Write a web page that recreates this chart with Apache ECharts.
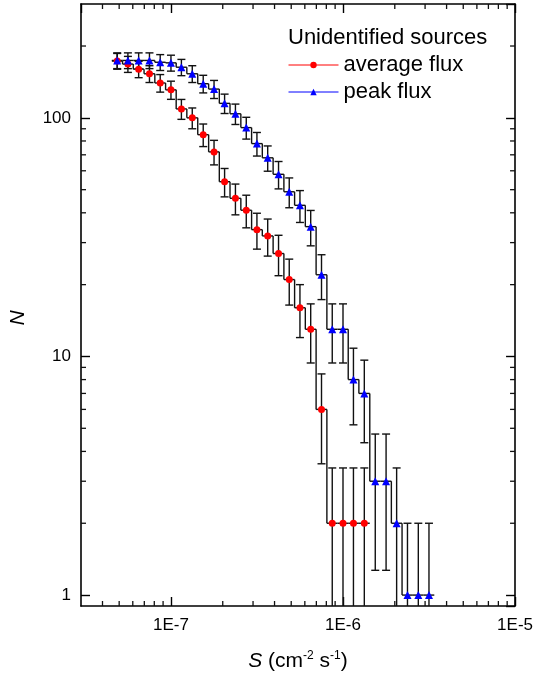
<!DOCTYPE html>
<html>
<head>
<meta charset="utf-8">
<script src="https://cdn.jsdelivr.net/npm/echarts@6/dist/echarts.min.js"></script>
<style>
  html, body { margin: 0; padding: 0; background: #fff; }
  #chart { width: 536px; height: 679px; }
</style>
</head>
<body>
<div id="chart"></div>
<script>
// flux bin centres (cm^-2 s^-1), shared by both curves
var sBins = [4.87e-8, 5.62e-8, 6.49e-8, 7.50e-8, 8.66e-8, 1.00e-7, 1.15e-7, 1.33e-7, 1.54e-7, 1.78e-7,
             2.05e-7, 2.37e-7, 2.74e-7, 3.16e-7, 3.65e-7, 4.22e-7, 4.87e-7, 5.62e-7, 6.49e-7, 7.50e-7,
             8.66e-7, 1.00e-6, 1.15e-6, 1.33e-6, 1.54e-6, 1.78e-6, 2.05e-6, 2.37e-6, 2.74e-6, 3.16e-6];

// average flux: cumulative counts and their errors
var avgN   = [173, 168, 160, 153, 140, 131, 109, 100, 85, 72, 54, 46, 41, 34, 32, 27, 21, 16, 13, 6, 2, 2, 2, 2];
var avgErr = [13.15, 12.96, 12.65, 12.37, 11.83, 11.45, 10.44, 10.0, 9.22, 8.49, 7.35, 6.78, 6.40, 5.83, 5.66,
              5.20, 4.58, 4.0, 3.61, 2.45, 1.41, 1.41, 1.41, 1.41];

// peak flux: cumulative counts and their errors
var peakN   = [174, 174, 174, 174, 171, 170, 163, 153, 139, 132, 115, 104, 91, 78, 68, 58, 49, 43, 35, 22,
               13, 13, 8, 7, 3, 3, 2, 1, 1, 1];
var peakErr = [13.19, 13.19, 13.19, 13.19, 13.08, 13.04, 12.77, 12.37, 11.79, 11.49, 10.72, 10.20, 9.54, 8.83, 8.25,
               7.62, 7.0, 6.56, 5.92, 4.69, 3.61, 3.61, 2.83, 2.65, 1.73, 1.73, 1.41, 1.0, 1.0, 1.0];

// minor tick positions
var xMinorTicks = [4e-8, 5e-8, 6e-8, 7e-8, 8e-8, 9e-8,
                   2e-7, 3e-7, 4e-7, 5e-7, 6e-7, 7e-7, 8e-7, 9e-7,
                   2e-6, 3e-6, 4e-6, 5e-6, 6e-6, 7e-6, 8e-6, 9e-6];
var yMinorTicks = [2, 3, 4, 5, 6, 7, 8, 9, 20, 30, 40, 50, 60, 70, 80, 90, 200];

var xMin = 3e-8, xMax = 1e-5, yMin = 0.9, yMax = 300;

var FONT = '"Liberation Sans", Arial, sans-serif';
var INK = '#111';
var LW = 1.4;

function pairs(ns, errs) {
  var out = [];
  for (var i = 0; i < ns.length; i++) out.push([sBins[i], ns[i], errs[i]]);
  return out;
}

function seg(p, q, w) {
  return { type: 'line', shape: { x1: p[0], y1: p[1], x2: q[0], y2: q[1] },
           style: { stroke: INK, lineWidth: w || LW } };
}

// step histogram + error bars, one group per bin
function histRender(ns, errs) {
  return function (params, api) {
    var i = params.dataIndex;
    var cs = params.coordSys;
    var x = sBins[i];
    var left = i > 0 ? Math.sqrt(sBins[i - 1] * x) : x * Math.sqrt(x / sBins[i + 1]);
    var right = i < ns.length - 1 ? Math.sqrt(sBins[i + 1] * x) : x * Math.sqrt(x / sBins[i - 1]);
    var n = ns[i];
    var kids = [];
    kids.push(seg(api.coord([left, n]), api.coord([right, n])));
    if (i > 0) kids.push(seg(api.coord([left, ns[i - 1]]), api.coord([left, n])));
    var hi = api.coord([x, n + errs[i]]);
    var loVal = n - errs[i];
    var lo = loVal > yMin ? api.coord([x, loVal]) : [hi[0], cs.y + cs.height];
    kids.push(seg(hi, lo));
    kids.push(seg([hi[0] - 4, hi[1]], [hi[0] + 4, hi[1]]));
    if (loVal > yMin) kids.push(seg([lo[0] - 4, lo[1]], [lo[0] + 4, lo[1]]));
    return { type: 'group', children: kids };
  };
}

var chart = echarts.init(document.getElementById('chart'));

function baseX(pos) {
  return {
    type: 'log', logBase: 10, min: xMin, max: xMax, position: pos,
    axisLine: { lineStyle: { color: '#000', width: 1.6 } },
    axisTick: { inside: true, length: 9, lineStyle: { color: '#000', width: 1.4 } },
    splitLine: { show: false },
    axisLabel: { show: false }
  };
}
function baseY(pos) {
  return {
    type: 'log', logBase: 10, min: yMin, max: yMax, position: pos,
    axisLine: { lineStyle: { color: '#000', width: 1.6 } },
    axisTick: { inside: true, length: 9, lineStyle: { color: '#000', width: 1.4 } },
    splitLine: { show: false },
    axisLabel: { show: false }
  };
}

var xBottom = baseX('bottom');
xBottom.axisLabel = {
  show: true, showMinLabel: false, margin: 11, color: '#000', fontSize: 17, fontFamily: FONT,
  formatter: function (v) { return '1E' + Math.round(Math.log10(v)); }
};
xBottom.name = '{it|S} (cm{sup|-2} s{sup|-1})';
xBottom.nameLocation = 'middle';
xBottom.nameGap = 44;
xBottom.nameTextStyle = {
  color: '#000', fontSize: 21, fontFamily: FONT,
  rich: {
    it: { fontStyle: 'italic', fontSize: 21, fontFamily: FONT, color: '#000' },
    sup: { fontSize: 12, fontFamily: FONT, color: '#000', padding: [0, 0, 10, 0] }
  }
};
var xTop = baseX('top');

var yLeft = baseY('left');
yLeft.axisLabel = {
  show: true, showMinLabel: false, showMaxLabel: false, margin: 10, color: '#000', fontSize: 17, fontFamily: FONT
};
yLeft.name = 'N';
yLeft.nameLocation = 'middle';
yLeft.nameGap = 52;
yLeft.nameTextStyle = { color: '#000', fontSize: 21, fontStyle: 'italic', fontFamily: FONT, padding: [0, 26, 0, 0] };
var yRight = baseY('right');

function minorRender(axis) {
  return function (params, api) {
    var cs = params.coordSys;
    var v = api.value(axis === 'x' ? 0 : 1);
    if (axis === 'x') {
      var px = api.coord([v, 1])[0];
      return { type: 'group', children: [
        seg([px, cs.y + cs.height], [px, cs.y + cs.height - 5], 1.3),
        seg([px, cs.y], [px, cs.y + 5], 1.3)
      ] };
    }
    var py = api.coord([1e-7, v])[1];
    return { type: 'group', children: [
      seg([cs.x, py], [cs.x + 5, py], 1.3),
      seg([cs.x + cs.width, py], [cs.x + cs.width - 5, py], 1.3)
    ] };
  };
}

chart.setOption({
  animation: false,
  backgroundColor: '#fff',
  title: {
    text: 'Unidentified sources', left: 288, top: 27, padding: 0,
    textStyle: { fontSize: 22, fontWeight: 'normal', color: '#000', fontFamily: FONT }
  },
  legend: {
    left: 288, top: 54, padding: 0, orient: 'vertical',
    itemWidth: 50, itemHeight: 8, itemGap: 5,
    textStyle: { fontSize: 22, color: '#000', fontFamily: FONT },
    data: [
      { name: 'average flux', lineStyle: { color: '#ff0000', width: 1, opacity: 1 } },
      { name: 'peak flux', lineStyle: { color: '#0000ff', width: 1, opacity: 1 } }
    ]
  },
  grid: { left: 79, right: 20, top: 4, bottom: 73 },
  xAxis: [xBottom, xTop],
  yAxis: [yLeft, yRight],
  series: [
    {
      type: 'custom', name: 'avgHist', xAxisIndex: 0, yAxisIndex: 0,
      renderItem: histRender(avgN, avgErr), data: pairs(avgN, avgErr), silent: true, z: 1
    },
    {
      type: 'custom', name: 'peakHist', xAxisIndex: 0, yAxisIndex: 0,
      renderItem: histRender(peakN, peakErr), data: pairs(peakN, peakErr), silent: true, z: 1
    },
    {
      type: 'custom', name: 'xMinor', renderItem: minorRender('x'), silent: true, z: 1,
      data: xMinorTicks.map(function (v) { return [v, 1]; })
    },
    {
      type: 'custom', name: 'yMinor', renderItem: minorRender('y'), silent: true, z: 1,
      data: yMinorTicks.map(function (v) { return [1e-7, v]; })
    },
    {
      type: 'line', name: 'average flux', xAxisIndex: 0, yAxisIndex: 0,
      data: pairs(avgN, avgErr).map(function (d) { return [d[0], d[1]]; }),
      symbol: 'circle', symbolSize: 7, showSymbol: true,
      itemStyle: { color: '#ff0000' }, lineStyle: { opacity: 0, width: 0 }, z: 3
    },
    {
      type: 'line', name: 'peak flux', xAxisIndex: 0, yAxisIndex: 0,
      data: pairs(peakN, peakErr).map(function (d) { return [d[0], d[1]]; }),
      symbol: 'triangle', symbolSize: 8, showSymbol: true,
      itemStyle: { color: '#0000ff' }, lineStyle: { opacity: 0, width: 0 }, z: 3
    }
  ]
});
</script>
</body>
</html>
